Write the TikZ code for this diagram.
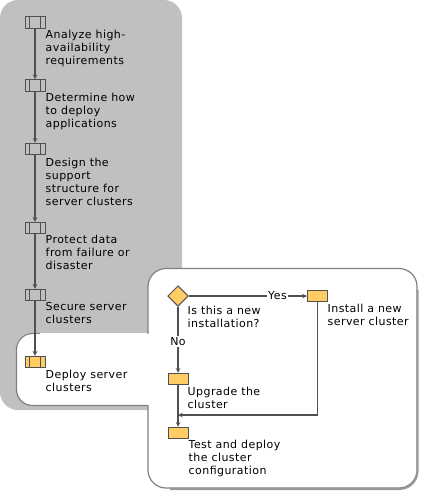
\documentclass[tikz,border=0pt]{standalone}
\usepackage{fontspec}
\setmainfont[LetterSpace=4]{DejaVu Sans}
\usetikzlibrary{shapes.geometric}
\definecolor{panelgray}{HTML}{C0C0C0}
\definecolor{stepyellow}{HTML}{FFCC66}
\definecolor{linegray}{HTML}{505050}
\begin{document}
\begin{tikzpicture}[
    x=1pt, y=-1pt,
    >=stealth,
    stepbox/.style={
        draw=linegray,
        line width=1pt,
        inner sep=0pt,
        minimum width=20pt,
        minimum height=11.5pt,
        path picture={
            \draw[linegray, line width=1.4pt] ([xshift=4.5pt]path picture bounding box.south west) -- ([xshift=4.5pt]path picture bounding box.north west);
            \draw[linegray, line width=.8pt] ([xshift=-4.5pt]path picture bounding box.south east) -- ([xshift=-4.5pt]path picture bounding box.north east);
        }
    },
    plainbox/.style={
        draw=linegray,
        line width=1pt,
        fill=stepyellow,
        inner sep=0pt,
        minimum width=20pt,
        minimum height=11.5pt
    },
    label/.style={
        anchor=north west,
        align=left,
        inner sep=0pt,
        font=\fontsize{11}{13.1}\selectfont
    },
    branch/.style={
        fill=white,
        inner sep=1.5pt,
        font=\fontsize{11}{13.1}\selectfont
    },
    link/.style={
        ->,
        draw=linegray,
        line width=1.1pt
    }
]
\useasboundingbox (0,0) rectangle (420,492);

% panels
\fill[panelgray, rounded corners=18pt] (0,0) rectangle (182,410);
\fill[white, rounded corners=16pt] (16,333) rectangle (60,405);
\fill[white] (40,333) rectangle (148,405);
\draw[gray, line width=1.2pt, rounded corners=16pt] (40,333.5) -- (16.5,333.5) -- (16.5,405.5) -- (148,405.5);
\draw[white, line width=.6pt] (36,333.8) -- (148,333.8);
\fill[white, rounded corners=18pt] (148,268) rectangle (417,488);
\draw[gray, line width=1.2pt, rounded corners=18pt] (148,268.5) rectangle (417,488);
\fill[white] (146,333.8) rectangle (149,404.8);
\draw[gray!80, line width=2pt, rounded corners=18pt] (417.5,290) -- (417.5,489) -- (170,489);

% main steps
\node[stepbox, fill=panelgray] (analyze) at (35,22.5) {};
\node[stepbox, fill=panelgray] (determine) at (35,85.5) {};
\node[stepbox, fill=panelgray] (design) at (35,149) {};
\node[stepbox, fill=panelgray] (protect) at (35,228) {};
\node[stepbox, fill=panelgray] (secure) at (35,295) {};
\node[stepbox, fill=stepyellow] (deploy) at (35,362) {};

\node[label] (tanalyze) at (45.5,30) {Analyze high-\\availability\\requirements};
\node[label] (tdetermine) at (45.5,93) {Determine how\\to deploy\\applications};
\node[label] (tdesign) at (45.5,158) {Design the\\support\\structure for\\server clusters};
\node[label] (tprotect) at (45.5,235) {Protect data\\from failure or\\disaster};
\node[label] (tsecure) at (45.5,302) {Secure server\\clusters};
\node[label] (tdeploy) at (45.5,370) {Deploy server\\clusters};

% sub steps
\node[diamond, draw=linegray, line width=1pt, fill=stepyellow, inner sep=0pt, minimum size=20.5pt] (isnew) at (178,296) {};
\node[plainbox] (install) at (317.5,296) {};
\node[plainbox] (upgrade) at (178,379) {};
\node[plainbox] (test) at (178,433) {};
\coordinate (merge) at (178,415);

\node[label] (tisnew) at (187.5,305.5) {Is this a new\\installation?};
\node[label] (tinstall) at (327.5,304) {Install a new\\server cluster};
\node[label] (tupgrade) at (187.5,387) {Upgrade the\\cluster};
\node[label] (ttest) at (188.5,439.5) {Test and deploy\\the cluster\\configuration};

\draw[link] (analyze) -- (determine);
\draw[link] (determine) -- (design);
\draw[link] (design) -- (protect);
\draw[link] (protect) -- (secure);
\draw[link] (secure) -- (deploy);
\draw[link] (isnew) -- node[branch, pos=.75] (yes) {Yes} (install);
\draw[link] (isnew) -- node[branch, pos=.53] (no) {No} (upgrade);
\draw[link] (upgrade) -- (test);
\draw[link] (install) |- (merge);

\end{tikzpicture}
\end{document}
